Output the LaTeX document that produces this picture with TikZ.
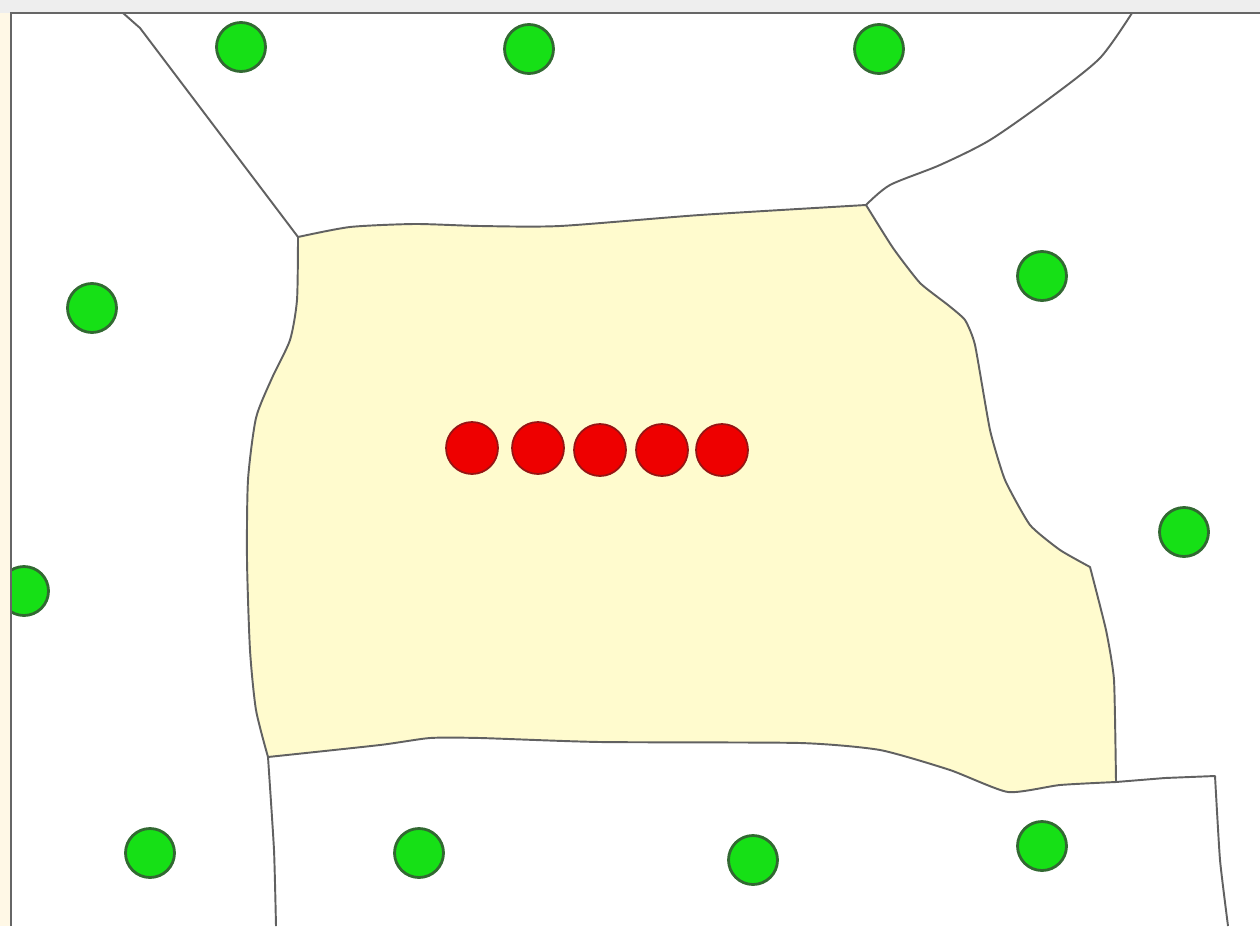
\documentclass[tikz,border=0pt]{standalone}
\begin{document}
\begin{tikzpicture}[x=0.02cm,y=-0.02cm,
  cellline/.style={draw=black!62,line width=1.1pt,line join=round},
  greendot/.style={circle,fill=dotgreen,draw=dotedge,line width=1.6pt,minimum size=0.98cm,inner sep=0pt},
  reddot/.style={circle,fill=dotred,draw=rededge,line width=1.0pt,minimum size=1.04cm,inner sep=0pt}]
\definecolor{cellcream}{RGB}{255,251,206}
\definecolor{dotgreen}{RGB}{22,224,22}
\definecolor{dotedge}{RGB}{50,105,50}
\definecolor{dotred}{RGB}{238,0,0}
\definecolor{rededge}{RGB}{150,20,20}
\definecolor{stripcream}{RGB}{255,248,230}
\definecolor{stripgray}{RGB}{238,238,238}
\useasboundingbox (0,0) rectangle (1260,926);
\fill[white] (0,0) rectangle (1260,926);
% central cell
\filldraw[fill=cellcream,cellline] plot[smooth,tension=0.4] coordinates {(298,237) (350,227) (415,224) (480,226) (560,226) (700,215) (866,205)}
  -- plot[smooth,tension=0.3] coordinates {(866,205) (893,248) (920,283) (948,305) (965,320) (975,345) (990,430) (1005,480) (1030,525) (1060,550) (1090,567)}
  -- plot[smooth,tension=0.3] coordinates {(1090,567) (1106,630) (1114,680) (1116,782)}
  -- plot[smooth,tension=0.35] coordinates {(1116,782) (1060,785) (1008,792) (950,770) (880,750) (800,743) (600,742) (480,738) (430,738) (380,745) (268,757)}
  -- plot[smooth,tension=0.4] coordinates {(268,757) (256,710) (250,650) (247,560) (248,480) (256,418) (272,378) (290,340) (297,300) (298,237)};
% other cell boundaries
\draw[cellline] (298,237) -- (140,28) -- (123,13);
\draw[cellline] plot[smooth,tension=0.45] coordinates {(866,205) (890,185) (940,165) (990,140) (1050,98) (1100,58) (1132,13)};
\draw[cellline] plot[smooth,tension=0.3] coordinates {(268,757) (274,850) (276,926)};
\draw[cellline] (1116,782) -- (1165,778) -- (1215,776) -- plot[smooth,tension=0.3] coordinates {(1215,776) (1220,860) (1228,926)};
% green sites
\foreach \n/\p in {g1/{(241,47)},g2/{(529,49)},g3/{(879,49)},g4/{(92,308)},g5/{(1042,276)},g6/{(1184,532)},g7/{(24,591)},g8/{(150,853)},g9/{(419,853)},g10/{(753,860)},g11/{(1042,846)}}
  \node[greendot] (\n) at \p {};
% red sites
\foreach \n/\p in {r1/{(472,448)},r2/{(538,448)},r3/{(600,450)},r4/{(662,450)},r5/{(722,450)}}
  \node[reddot] (\n) at \p {};
% window strips
\fill[stripcream] (0,0) rectangle (11,926);
\fill[stripgray] (0,0) rectangle (1260,13);
\draw[black!60,line width=1.2pt] (11,926) -- (11,13) -- (1260,13);
\end{tikzpicture}
\end{document}
